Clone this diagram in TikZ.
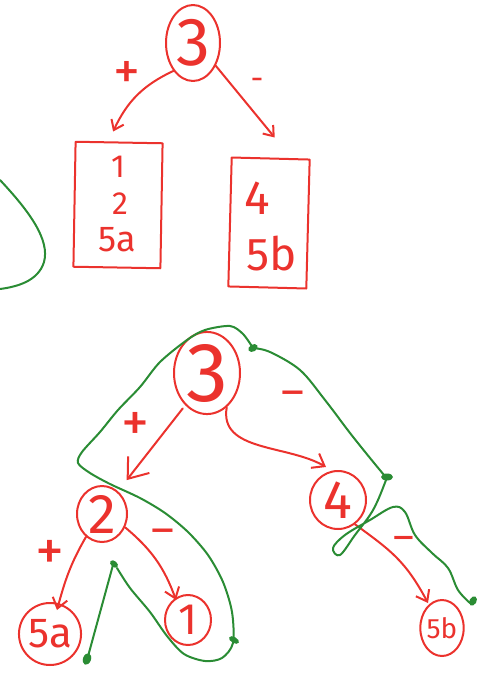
\documentclass[tikz,border=0pt]{standalone}
\usepackage{fontspec}
\setmainfont{Fira Sans}
\usetikzlibrary{shapes.geometric,arrows.meta}
\definecolor{inkred}{RGB}{235,50,45}
\definecolor{inkgreen}{RGB}{42,140,52}
\begin{document}
\begin{tikzpicture}[x=1pt,y=-1pt,
  redline/.style={draw=inkred,line width=2pt,line cap=round,line join=round},
  oval/.style={ellipse,redline,inner sep=0pt,text=inkred},
  box/.style={rectangle,redline,inner sep=0pt},
  fs/.style={font=\fontsize{#1}{#1}\selectfont},
  lbl/.style={text=inkred,inner sep=0pt,fs=#1},
  redarrow/.style={redline,-{Straight Barb[length=#1,width=1.5*#1]}},
  greenline/.style={draw=inkgreen,line width=2pt,line cap=round,line join=round},
  dot/.style={fill=inkgreen}
]
\useasboundingbox (0,0) rectangle (486,678);

% ---------- top part ----------
\node[oval,minimum width=54pt,minimum height=76pt,fs=68] (t3) at (193,43) {3};
\node[box,minimum width=87pt,minimum height=125pt,rotate=-1] (boxA) at (118,205) {};
\node[box,minimum width=78pt,minimum height=129pt,rotate=-1.5] (boxB) at (269,223) {};
\node[lbl=32] (a1) at (118,167) {1};
\node[lbl=32] (a2) at (120,204) {2};
\node[lbl=36] (a5) at (117,240) {5a};
\node[lbl=48] (b4) at (257,198) {4};
\node[lbl=46] (b5) at (272,254) {5b};
\node[lbl=54] (tp) at (127,75) {+};
\node[lbl=32] (tm) at (257,84) {-};
\draw[redarrow=9pt] (t3.235) to[out=205,in=65] ([xshift=-6pt,yshift=10pt]boxA.north);
\draw[redarrow=9pt] (t3.-45) -- ([xshift=4pt,yshift=20pt]boxB.north);

\draw[greenline] (0,180) .. controls (30,212) and (50,240) .. (44,262)
  .. controls (38,282) and (15,287) .. (0,289);

% ---------- bottom part ----------
\node[oval,minimum width=66pt,minimum height=68pt,fs=84] (n3) at (207,373) {3};
\node[oval,minimum width=50pt,minimum height=56pt,fs=56] (n2) at (102,514) {2};
\node[oval,minimum width=56pt,minimum height=58pt,fs=54] (n4) at (338,500) {4};
\node[oval,minimum width=52pt,minimum height=62pt,fs=42] (n5a) at (50,634) {5a};
\node[oval,minimum width=46pt,minimum height=50pt,fs=44] (n1) at (188,620) {1};
\node[oval,minimum width=40pt,minimum height=56pt,fs=28] (n5b) at (442,628) {5b};

\node[lbl=56] (p1) at (135,427) {+};
\node[lbl=44] (m1) at (293,399) {--};
\node[lbl=58] (p2) at (50,555) {+};
\node[lbl=44] (m2) at (163,537) {--};
\node[lbl=40] (m3) at (404,543) {--};

\draw[redarrow=18pt, shorten <=4pt, shorten >=14pt] (n3.236) -- (n2.55);
\draw[redarrow=11pt] (n3.-60) to[out=-100,in=150] ([xshift=-12pt,yshift=3pt]n4.north);
\draw[redarrow=10pt] (n2.235) to[out=-120,in=75] ([xshift=7pt,yshift=-8pt]n5a.north);
\draw[redarrow=10pt] (n2.-30) to[out=-40,in=110] ([xshift=-12pt,yshift=-6pt]n1.north);
\draw[redarrow=10pt] (n4.-55) .. controls (390,550) and (405,560) .. ([xshift=-14pt,yshift=-4pt]n5b.north);

% green traversal strokes
\draw[greenline] plot[smooth,tension=0.5] coordinates {
  (253,348) (243,334) (230,326) (205,330) (187,340) (160,362) (140,387)
  (118,410) (100,432) (82,452) (78,463) (90,473) (110,484) (140,498) (165,513) (188,532)
  (208,555) (223,582) (232,612) (233,643) (222,658) (205,661) (184,654)
  (167,636) (150,612) (130,588) (117,568)};
\draw[greenline] (113,565) -- (87,660);
\draw[greenline] plot[smooth,tension=0.55] coordinates {
  (253,348) (270,352) (300,370) (325,400) (350,433) (370,458) (384,475)};
\draw[greenline] plot[smooth,tension=0.6] coordinates {
  (386,480) (378,500) (370,515) (355,535) (340,555) (333,548) (345,535)
  (370,520) (393,507) (405,512) (415,535) (432,553) (448,568) (458,590) (470,603)};

\fill[dot,rotate around={30:(253,348)}] (253,348) ellipse (5pt and 3.5pt);
\fill[dot] (387,477) ellipse (6pt and 3.5pt);
\fill[dot,rotate around={60:(473,601)}] (473,601) ellipse (5pt and 3.5pt);
\fill[dot,rotate around={-40:(114,564)}] (114,564) ellipse (4.5pt and 3pt);
\fill[dot,rotate around={70:(87,659)}] (87,659) ellipse (6pt and 4pt);
\fill[dot,rotate around={-30:(234,640)}] (234,640) ellipse (5.5pt and 3pt);
\end{tikzpicture}
\end{document}
